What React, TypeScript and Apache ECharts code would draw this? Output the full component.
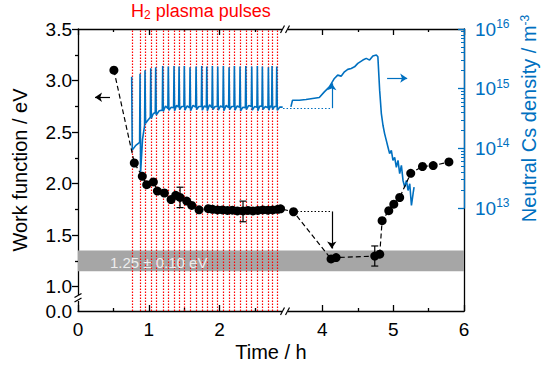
import React, { useEffect, useRef } from 'react';
import * as echarts from 'echarts';

// ---- axis layout values ----
const BREAK_START = 2.95; // time (h) where the x axis is cut
const BREAK_END = 3.5; // time (h) where it resumes
const WF_BOTTOM = 0.764; // value shown as "0.0" below the y-axis break
const tickTimes = [0, 1, 2, 4, 5, 6];
const minorTickTimes = [0.5, 1.5, 2.5, 4.5, 5.5];
const wfTicks = [1.0, 1.5, 2.0, 2.5, 3.0, 3.5];
const wfMinorTicks = [1.25, 1.75, 2.25, 2.75, 3.25];
const csDecadeExp = [13, 14, 15];
const csMinorMultipliers = [2, 3, 4, 5, 6, 7, 8, 9];

// ---- work function (black) ----
const wfTime = [0.507, 0.795, 0.908, 0.97, 1.064, 1.121, 1.219, 1.314, 1.38, 1.441, 1.535, 1.606, 1.709, 1.84, 1.9, 1.97, 2.04, 2.11, 2.18, 2.25, 2.33, 2.4, 2.47, 2.54, 2.61, 2.68, 2.75, 2.82, 2.86, 3.593, 4.123, 4.194, 4.74, 4.81, 4.844, 4.938, 5.009, 5.092, 5.248, 5.414, 5.565, 5.787];
const wfValue = [3.1, 2.2, 2.071, 1.99, 2.016, 1.928, 1.909, 1.845, 1.886, 1.866, 1.831, 1.788, 1.746, 1.757, 1.75, 1.745, 1.745, 1.74, 1.742, 1.735, 1.735, 1.74, 1.735, 1.74, 1.745, 1.742, 1.745, 1.75, 1.755, 1.727, 1.269, 1.282, 1.297, 1.315, 1.64, 1.737, 1.8, 1.865, 2.1, 2.166, 2.175, 2.21];
const errTime = [1.441, 2.33, 4.74];
const errLow = [1.767, 1.63, 1.2];
const errHigh = [1.965, 1.83, 1.395];
const bandRange = [1.15, 1.35];
const bandLabel = '1.25 ± 0.10 eV';

// ---- H2 plasma pulses and Cs density (blue), exponents of m^-3 ----
const pulseTimes = [0.758, 0.876, 0.946, 1.027, 1.097, 1.196, 1.275, 1.356, 1.427, 1.501, 1.582, 1.667, 1.747, 1.818, 1.897, 1.973, 2.052, 2.133, 2.208, 2.288, 2.369, 2.453, 2.532, 2.603, 2.688, 2.74, 2.806];
const pulsePeakExp = [15.2, 15.25, 15.31, 15.34, 15.36, 15.38, 15.37, 15.38, 15.37, 15.38, 15.36, 15.37, 15.38, 15.37, 15.38, 15.37, 15.38, 15.36, 15.38, 15.37, 15.38, 15.37, 15.38, 15.37, 15.36, 15.38, 15.37];
const pulsePreExp = [0, 14.1, 14.38, 14.52, 14.6, 14.64, 14.67, 14.68, 14.69, 14.7, 14.68, 14.69, 14.7, 14.69, 14.68, 14.7, 14.69, 14.68, 14.7, 14.69, 14.68, 14.7, 14.69, 14.7, 14.68, 14.69, 14.7];
const pulsePostExp = [13.97, 13.6, 14.42, 14.5, 14.56, 14.62, 14.64, 14.63, 14.65, 14.64, 14.63, 14.65, 14.64, 14.63, 14.65, 14.64, 14.63, 14.65, 14.64, 14.63, 14.65, 14.64, 14.63, 14.65, 14.64, 14.65, 14.64];
const pulseMidExp = [14.05, 14.15, 14.47, 14.58, 14.63, 14.71, 14.69, 14.72, 14.7, 14.71, 14.72, 14.7, 14.71, 14.73, 14.7, 14.71, 14.72, 14.7, 14.71, 14.69, 14.72, 14.7, 14.71, 14.7, 14.71, 14.7, 14.69];
const csLeftEnd = [2.89, 14.69];
const csRightTime = [3.556, 3.579, 3.674, 3.769, 3.862, 3.957, 4.028, 4.099, 4.17, 4.217, 4.265, 4.312, 4.359, 4.407, 4.454, 4.501, 4.572, 4.62, 4.667, 4.713, 4.762, 4.784, 4.809, 4.833, 4.856, 4.879, 4.903, 4.926, 4.95, 4.974, 4.997, 5.021, 5.045, 5.068, 5.092, 5.116, 5.139, 5.163, 5.187, 5.21, 5.234, 5.258, 5.281, 5.295];
const csRightExp = [14.694, 14.807, 14.807, 14.818, 14.835, 14.852, 14.946, 15.03, 15.171, 15.227, 15.21, 15.282, 15.323, 15.339, 15.366, 15.424, 15.479, 15.508, 15.479, 15.546, 15.563, 15.534, 14.975, 14.583, 14.387, 14.247, 14.134, 14.022, 13.911, 13.966, 13.798, 13.849, 13.681, 13.798, 13.575, 13.714, 13.462, 13.35, 13.462, 13.294, 13.407, 13.042, 13.239, 13.35];

const BLUE = '#0070c0';
const RED = '#ff0000';
const FONT = '"Liberation Sans", Arial, sans-serif';

const gapLen = BREAK_END - BREAK_START;
const toU = (t: number) => (t <= BREAK_START ? t : t - gapLen);
const fromU = (u: number) => (u <= BREAK_START + 1e-6 ? u : u + gapLen);
const X_MAX = toU(6);

function buildOption() {
  const wfData = wfTime.map((t, i) => [toU(t), wfValue[i]]);
  const errData = errTime.map((t, i) => [toU(t), errLow[i], errHigh[i]]);

  const blueLeft: number[][] = [];
  pulseTimes.forEach((t, i) => {
    if (i > 0) blueLeft.push([toU(t - 0.006), Math.pow(10, pulsePreExp[i])]);
    blueLeft.push([toU(t), Math.pow(10, pulsePeakExp[i])]);
    blueLeft.push([toU(t + 0.008), Math.pow(10, pulsePostExp[i])]);
    const next = i < pulseTimes.length - 1 ? pulseTimes[i + 1] : csLeftEnd[0];
    blueLeft.push([toU((t + next) / 2), Math.pow(10, pulseMidExp[i])]);
  });
  blueLeft.push([toU(csLeftEnd[0]), Math.pow(10, csLeftEnd[1])]);
  const blueRight = csRightTime.map((t, i) => [toU(t), Math.pow(10, csRightExp[i])]);

  // minor tick positions of the log axis, expressed as log10 values
  const csMinorLog: number[] = [];
  csDecadeExp.forEach((e) => csMinorMultipliers.forEach((m) => csMinorLog.push(e + Math.log10(m))));

  const lineBlack = { color: '#000', width: 1.3 };
  const majorU = tickTimes.map(toU);
  const minorU = minorTickTimes.map(toU);

  const blackDot = { type: [1.5, 2], color: '#000', width: 1.2 };
  const blueDot = { type: [1.5, 2], color: BLUE, width: 1.2 };

  const xBase = {
    type: 'value',
    gridIndex: 0,
    min: 0,
    max: X_MAX,
    splitLine: { show: false },
    nameMoveOverlap: false,
  };
  const yBase = {
    type: 'value',
    gridIndex: 0,
    min: WF_BOTTOM,
    max: 3.5,
    splitLine: { show: false },
    nameMoveOverlap: false,
  };

  return {
    animation: false,
    textStyle: { fontFamily: FONT },
    grid: [
      { left: 78, top: 29, width: 386, height: 282, outerBoundsMode: 'none' },
      { left: 78, top: 29, width: 386, height: 179, outerBoundsMode: 'none' },
    ],
    xAxis: [
      {
        ...xBase,
        position: 'bottom',
        axisLine: { show: true, onZero: false, lineStyle: lineBlack },
        axisTick: { show: true, inside: true, length: 6, customValues: majorU, lineStyle: lineBlack },
        axisLabel: {
          customValues: majorU,
          formatter: (v: number) => String(Math.round(fromU(v))),
          color: '#000',
          fontSize: 19,
          margin: 9,
        },
        name: 'Time / h',
        nameLocation: 'middle',
        nameGap: 31,
        nameTextStyle: { color: '#000', fontSize: 20 },
      },
      {
        ...xBase,
        position: 'bottom',
        axisLine: { show: false, onZero: false },
        axisTick: { show: true, inside: true, length: 3, customValues: minorU, lineStyle: lineBlack },
        axisLabel: { show: false },
      },
      {
        ...xBase,
        position: 'top',
        axisLine: { show: true, onZero: false, lineStyle: lineBlack },
        axisTick: { show: true, inside: true, length: 6, customValues: majorU, lineStyle: lineBlack },
        axisLabel: { show: false },
      },
      {
        ...xBase,
        position: 'top',
        axisLine: { show: false, onZero: false },
        axisTick: { show: true, inside: true, length: 3, customValues: minorU, lineStyle: lineBlack },
        axisLabel: { show: false },
      },
      {
        ...xBase,
        gridIndex: 1,
        show: false,
      },
    ],
    yAxis: [
      {
        ...yBase,
        position: 'left',
        axisLine: { show: true, onZero: false, lineStyle: lineBlack },
        axisTick: { show: true, inside: false, length: 6, customValues: wfTicks, lineStyle: lineBlack },
        axisLabel: {
          customValues: [WF_BOTTOM, ...wfTicks],
          formatter: (v: number) => (v < 0.9 ? '0.0' : v.toFixed(1)),
          color: '#000',
          fontSize: 19,
          margin: 6,
        },
        name: 'Work function / eV',
        nameLocation: 'middle',
        nameGap: 48,
        nameRotate: 90,
        nameTextStyle: { color: '#000', fontSize: 20 },
      },
      {
        ...yBase,
        position: 'left',
        axisLine: { show: false, onZero: false },
        axisTick: { show: true, inside: false, length: 3, customValues: wfMinorTicks, lineStyle: lineBlack },
        axisLabel: { show: false },
      },
      {
        ...yBase,
        position: 'right',
        axisLine: { show: true, onZero: false, lineStyle: lineBlack },
        axisTick: { show: false },
        axisLabel: { show: false },
      },
      {
        type: 'log',
        logBase: 10,
        gridIndex: 1,
        position: 'right',
        min: 1e13,
        max: 1e16,
        z: 3,
        splitLine: { show: false },
        nameMoveOverlap: false,
        axisLine: { show: true, onZero: false, lineStyle: { color: BLUE, width: 1.3 } },
        axisTick: { show: true, inside: true, length: 6, lineStyle: { color: BLUE, width: 1.3 } },
        axisLabel: {
          color: BLUE,
          margin: 11,
          formatter: (v: number) => `{b|10}{s|${Math.round(Math.log10(v))}}`,
          rich: {
            b: { fontSize: 19, color: BLUE, lineHeight: 22, fontFamily: FONT },
            s: { fontSize: 12, color: BLUE, lineHeight: 12, verticalAlign: 'top', fontFamily: FONT },
          },
        },
        name: 'Neutral Cs density / m{s|-3}',
        nameLocation: 'middle',
        nameGap: 55,
        nameRotate: 90,
        nameTextStyle: {
          color: BLUE,
          fontSize: 20,
          rich: {
            s: { fontSize: 12, color: BLUE, lineHeight: 12, verticalAlign: 'top', fontFamily: FONT },
          },
        },
      },
      {
        // minor ticks of the log axis (same span, in log10 units)
        type: 'value',
        gridIndex: 1,
        position: 'right',
        min: 13,
        max: 16,
        z: 3,
        splitLine: { show: false },
        axisLine: { show: false, onZero: false },
        axisTick: { show: true, inside: true, length: 3, customValues: csMinorLog, lineStyle: { color: BLUE, width: 1 } },
        axisLabel: { show: false },
      },
    ],
    graphic: [
      {
        type: 'text',
        left: 131,
        top: 2,
        z: 100,
        style: {
          text: '{a|H}{b|2}{a| plasma pulses}',
          rich: {
            a: { fontSize: 18, lineHeight: 20, fill: RED, fontFamily: FONT },
            b: { fontSize: 12, lineHeight: 10, fill: RED, verticalAlign: 'bottom', fontFamily: FONT },
          },
        },
      },
      {
        type: 'text',
        x: 110,
        y: 262,
        z: 100,
        style: {
          text: bandLabel,
          fill: '#eeeeee',
          fontSize: 15,
          fontFamily: FONT,
          verticalAlign: 'middle',
          align: 'left',
        },
      },
      // axis breaks
      { type: 'rect', z: 100, shape: { x: 282, y: 26, width: 6, height: 6 }, style: { fill: '#fff' } },
      { type: 'line', z: 101, shape: { x1: 280.5, y1: 33, x2: 284.5, y2: 25.5 }, style: { stroke: '#000', lineWidth: 1.2 } },
      { type: 'line', z: 101, shape: { x1: 285.5, y1: 33, x2: 289.5, y2: 25.5 }, style: { stroke: '#000', lineWidth: 1.2 } },
      { type: 'rect', z: 100, shape: { x: 282, y: 308, width: 6, height: 6 }, style: { fill: '#fff' } },
      { type: 'line', z: 101, shape: { x1: 280.5, y1: 315, x2: 284.5, y2: 307.5 }, style: { stroke: '#000', lineWidth: 1.2 } },
      { type: 'line', z: 101, shape: { x1: 285.5, y1: 315, x2: 289.5, y2: 307.5 }, style: { stroke: '#000', lineWidth: 1.2 } },
      { type: 'rect', z: 100, shape: { x: 75, y: 295, width: 6, height: 6 }, style: { fill: '#fff' } },
      { type: 'line', z: 101, shape: { x1: 74.5, y1: 297.5, x2: 81.5, y2: 293.5 }, style: { stroke: '#000', lineWidth: 1.2 } },
      { type: 'line', z: 101, shape: { x1: 74.5, y1: 302, x2: 81.5, y2: 298 }, style: { stroke: '#000', lineWidth: 1.2 } },
    ],
    series: [
      {
        name: 'work function',
        type: 'line',
        xAxisIndex: 0,
        yAxisIndex: 0,
        z: 5,
        data: wfData,
        symbol: 'circle',
        symbolSize: 9,
        itemStyle: { color: '#000' },
        lineStyle: { color: '#000', width: 1.2, type: [5, 3] },
        silent: true,
        markArea: {
          silent: true,
          z: 1,
          itemStyle: { color: '#a6a6a6' },
          label: { show: false },
          data: [[{ yAxis: bandRange[0] }, { yAxis: bandRange[1] }]],
        },
        markLine: {
          silent: true,
          z: 2,
          symbol: 'none',
          label: { show: false },
          data: [
            ...pulseTimes.map((t) => ({
              xAxis: toU(t),
              lineStyle: { color: RED, type: [1.5, 1.5], width: 1.2 },
            })),
            [
              { coord: [toU(0.452), 2.838], symbol: 'none', lineStyle: { color: '#000', type: 'solid', width: 1.2 } },
              { coord: [toU(0.24), 2.838], symbol: 'arrow', symbolSize: 7 },
            ],
            [
              { coord: [toU(3.593), 1.73], symbol: 'none', lineStyle: blackDot },
              { coord: [toU(4.133), 1.73], symbol: 'none' },
            ],
            [
              { coord: [toU(4.133), 1.73], symbol: 'none', lineStyle: { color: '#000', type: 'solid', width: 1.2 } },
              { coord: [toU(4.133), 1.37], symbol: 'arrow', symbolSize: 7 },
            ],
          ],
        },
      },
      {
        name: 'error',
        type: 'custom',
        xAxisIndex: 0,
        yAxisIndex: 0,
        z: 6,
        silent: true,
        data: errData,
        encode: { x: 0, y: [1, 2] },
        renderItem: (params: any, api: any) => {
          const x = api.value(0);
          const lo = api.coord([x, api.value(1)]);
          const hi = api.coord([x, api.value(2)]);
          const w = 3.5;
          const st = { stroke: '#000', lineWidth: 1.2 };
          return {
            type: 'group',
            children: [
              { type: 'line', shape: { x1: lo[0], y1: lo[1], x2: hi[0], y2: hi[1] }, style: st },
              { type: 'line', shape: { x1: lo[0] - w, y1: lo[1], x2: lo[0] + w, y2: lo[1] }, style: st },
              { type: 'line', shape: { x1: hi[0] - w, y1: hi[1], x2: hi[0] + w, y2: hi[1] }, style: st },
            ],
          };
        },
      },
      {
        name: 'Cs pulses',
        type: 'line',
        xAxisIndex: 4,
        yAxisIndex: 3,
        z: 3,
        data: blueLeft,
        showSymbol: false,
        symbol: 'none',
        silent: true,
        lineStyle: { color: BLUE, width: 1.6 },
        markLine: {
          silent: true,
          z: 3,
          symbol: 'none',
          label: { show: false },
          data: [
            [
              { coord: [toU(2.895), 4.71e14], symbol: 'none', lineStyle: blueDot },
              { coord: [toU(4.133), 4.71e14], symbol: 'none' },
            ],
            [
              { coord: [toU(4.133), 4.71e14], symbol: 'none', lineStyle: { color: BLUE, type: 'solid', width: 1.2 } },
              { coord: [toU(4.133), 1.23e15], symbol: 'arrow', symbolSize: 7 },
            ],
            [
              { coord: [toU(4.914), 1.5e15], symbol: 'none', lineStyle: { color: BLUE, type: 'solid', width: 1.2 } },
              { coord: [toU(5.198), 1.5e15], symbol: 'arrow', symbolSize: 7 },
            ],
          ],
        },
      },
      {
        name: 'Cs after',
        type: 'line',
        xAxisIndex: 4,
        yAxisIndex: 3,
        z: 3,
        data: blueRight,
        showSymbol: false,
        symbol: 'none',
        silent: true,
        lineStyle: { color: BLUE, width: 1.6 },
      },
    ],
  };
}

export default function App() {
  const ref = useRef<HTMLDivElement>(null);
  useEffect(() => {
    document.body.style.margin = '0';
    const chart = echarts.init(ref.current!, undefined, { renderer: 'svg' });
    chart.setOption(buildOption() as any);
    return () => chart.dispose();
  }, []);
  return <div ref={ref} style={{ width: 545, height: 367 }} />;
}
